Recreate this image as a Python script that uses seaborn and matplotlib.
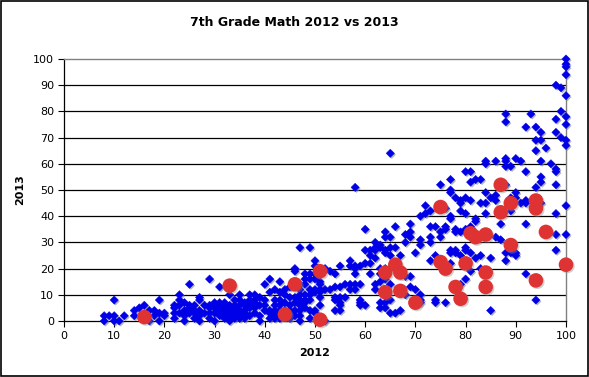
import matplotlib
matplotlib.use("Agg")
import matplotlib.pyplot as plt
import matplotlib.patheffects as pe
from matplotlib.patches import Rectangle
import seaborn as sns
import pandas as pd

# ---- data (2012 score, list of 2013 scores) ----
blue_columns = [
    (8, [0, 2]), (9, [2]), (10, [0, 2, 8]), (11, [0]), (12, [2]),
    (14, [2, 4]), (15, [5]), (16, [6]), (17, [0, 4]), (18, [2, 4]),
    (19, [0, 3, 8]), (20, [2, 3]), (22, [1, 3, 5, 6]), (23, [3, 6, 8, 10]),
    (24, [0, 2, 4, 7]), (25, [3, 5, 6, 14]), (26, [1, 3, 4, 6]),
    (27, [0, 2, 4, 8, 9]), (28, [3, 6]), (29, [1, 3, 5, 6, 16]),
    (30, [0, 3, 5, 7]), (31, [2, 4, 6, 7, 13]), (32, [1, 3, 5, 7]),
    (33, [0, 2, 4, 6, 10]), (34, [1, 3, 5, 6, 8]), (35, [1, 2, 4, 6, 8, 10]),
    (36, [1, 3, 4, 6, 7]), (37, [2, 5, 6, 8, 10]), (38, [3, 5, 7, 8, 10]),
    (39, [0, 2, 6, 9]), (40, [4, 6, 8, 14]), (41, [1, 3, 4, 11, 16]),
    (42, [1, 2, 4, 6, 8, 12]), (43, [1, 3, 4, 6, 8, 11, 15]),
    (44, [4, 7, 10, 12]), (45, [1, 3, 4, 6, 9, 13]),
    (46, [2, 4, 7, 9, 14, 19, 20]), (47, [0, 2, 4, 6, 8, 10, 12, 14, 28]),
    (48, [5, 7, 8, 10, 14, 16, 18]), (49, [1, 4, 8, 10, 12, 16, 18, 28]),
    (50, [3, 4, 11, 12, 16, 18, 21, 23]), (51, [6, 9, 11, 12, 14, 15]),
    (52, [0, 12, 20]), (53, [12, 19]), (54, [4, 8, 9, 13, 18]),
    (55, [4, 6, 7, 9, 13, 21]), (56, [9, 14]), (57, [12, 14, 21, 23]),
    (58, [12, 14, 18, 20, 21, 51]), (59, [6, 7, 8, 14, 21]),
    (60, [6, 22, 27, 35]), (61, [18, 22, 25, 27]),
    (62, [12, 14, 24, 27, 28, 30]), (63, [5, 7, 15, 18, 20, 28, 29]),
    (64, [5, 7, 10, 16, 18, 20, 26, 27, 32, 34]),
    (65, [3, 8, 14, 25, 28, 32, 64]), (66, [3, 28, 36]), (67, [4, 25]),
    (68, [10, 17, 30, 33]), (69, [13, 17, 32, 34, 37]), (70, [12, 26]),
    (71, [7, 8, 10, 29, 31, 40]), (72, [41, 44]), (73, [23, 30, 32, 36, 42]),
    (74, [7, 8, 25, 36]), (75, [32, 34, 52]), (76, [7, 35, 36, 43]),
    (77, [22, 26, 27, 39, 40, 49, 50, 54]), (78, [26, 27, 34, 35, 47]),
    (79, [14, 25, 34, 42, 45, 46]), (80, [16, 27, 28, 34, 35, 41, 47, 57]),
    (81, [19, 26, 34, 36, 46, 53, 57]), (82, [24, 38, 39, 54]),
    (83, [20, 25, 45, 54]), (84, [18, 41, 45, 49, 60, 61]),
    (85, [4, 24, 47]), (86, [32, 46, 48, 61]), (87, [31, 37]),
    (88, [23, 26, 52, 59, 61, 62, 76, 79]), (89, [26, 42, 47, 59]),
    (90, [25, 26, 47, 49, 62]), (91, [45, 61]),
    (92, [18, 37, 45, 46, 57, 74]), (93, [79]),
    (94, [8, 51, 65, 69, 74]), (95, [45, 53, 55, 61, 69, 72]),
    (96, [66]), (97, [60]),
    (98, [27, 33, 41, 52, 57, 58, 72, 77, 90]), (99, [70, 80, 89]),
    (100, [33, 44, 67, 69, 75, 78, 86, 94, 97, 98, 100]),
]

red_2012 = [16, 33, 44, 46, 51, 51, 64, 66, 67, 64, 67, 70, 75, 76, 80, 78,
            79, 84, 84, 94, 100, 87, 89, 87, 94, 94, 82, 84, 81, 89, 96, 75]
red_2013 = [1.5, 13.5, 2.5, 14, 19, 0.5, 18.5, 21.5, 18.5, 11, 11.5, 7, 22.5,
            20, 22, 13, 8.5, 18.5, 13, 15.5, 21.5, 52, 45, 41.5, 46, 43, 32,
            33, 33.5, 29, 34, 43.5]

title = "7th Grade Math 2012 vs 2013"
x_label = "2012"
y_label = "2013"
ticks = list(range(0, 101, 10))

# ---- build tables ----
bx, by = [], []
for x, ys in blue_columns:
    for y in ys:
        bx.append(x)
        by.append(y)
blue_df = pd.DataFrame({"x": bx, "y": by})
red_df = pd.DataFrame({"x": red_2012, "y": red_2013})

plt.rcParams["font.family"] = ["DejaVu Sans"]

fig = plt.figure(figsize=(5.89, 3.77), dpi=100)
ax = fig.add_axes([64 / 589, 1 - 321 / 377, 502 / 589, 262 / 377])

shadow_b = [pe.SimplePatchShadow(offset=(1, -1), shadow_rgbFace="#888888", alpha=0.6), pe.Normal()]
shadow_r = [pe.SimplePatchShadow(offset=(1, -1), shadow_rgbFace="#888888", alpha=0.4), pe.Normal()]

sns.scatterplot(data=blue_df, x="x", y="y", ax=ax, marker="D", s=18,
                color="#0000E8", edgecolor="#0000E8", linewidth=0.3,
                clip_on=False, zorder=3, legend=False)
for c in ax.collections:
    c.set_path_effects(shadow_b)
n0 = len(ax.collections)
sns.scatterplot(data=red_df, x="x", y="y", ax=ax, marker="o", s=110,
                color="#DF3333", edgecolor="none", linewidth=0,
                clip_on=False, zorder=4, legend=False)
for c in ax.collections[n0:]:
    c.set_path_effects(shadow_r)

ax.set_xlim(0, 100)
ax.set_ylim(0, 100)
ax.set_xticks(ticks)
ax.set_yticks(ticks)
ax.tick_params(axis="both", direction="out", length=4, width=0.8,
               labelsize=8, colors="black", pad=3)
for yv in ticks[1:-1]:
    ax.axhline(yv, color="black", lw=0.9, zorder=1)

for side in ["top", "right"]:
    ax.spines[side].set_color("#808080")
    ax.spines[side].set_linewidth(1.0)
for side in ["left", "bottom"]:
    ax.spines[side].set_color("black")
    ax.spines[side].set_linewidth(0.9)

ax.set_xlabel(x_label, fontsize=8, fontweight="bold")
ax.set_ylabel(y_label, fontsize=8, fontweight="bold")
ax.xaxis.set_label_coords(0.5, (321 - 353) / 262)
ax.xaxis.label.set_va("center")
ax.yaxis.set_label_coords((20 - 64) / 502, 0.5)
ax.yaxis.label.set_va("center")

fig.text(0.5, 1 - 22 / 377, title, ha="center", va="center",
         fontsize=9, fontweight="bold")

fig.patches.append(Rectangle((0.001, 0.002), 0.997, 0.995, transform=fig.transFigure,
                             fill=False, edgecolor="black", lw=1.2))

fig.savefig("out.png", dpi=100)
